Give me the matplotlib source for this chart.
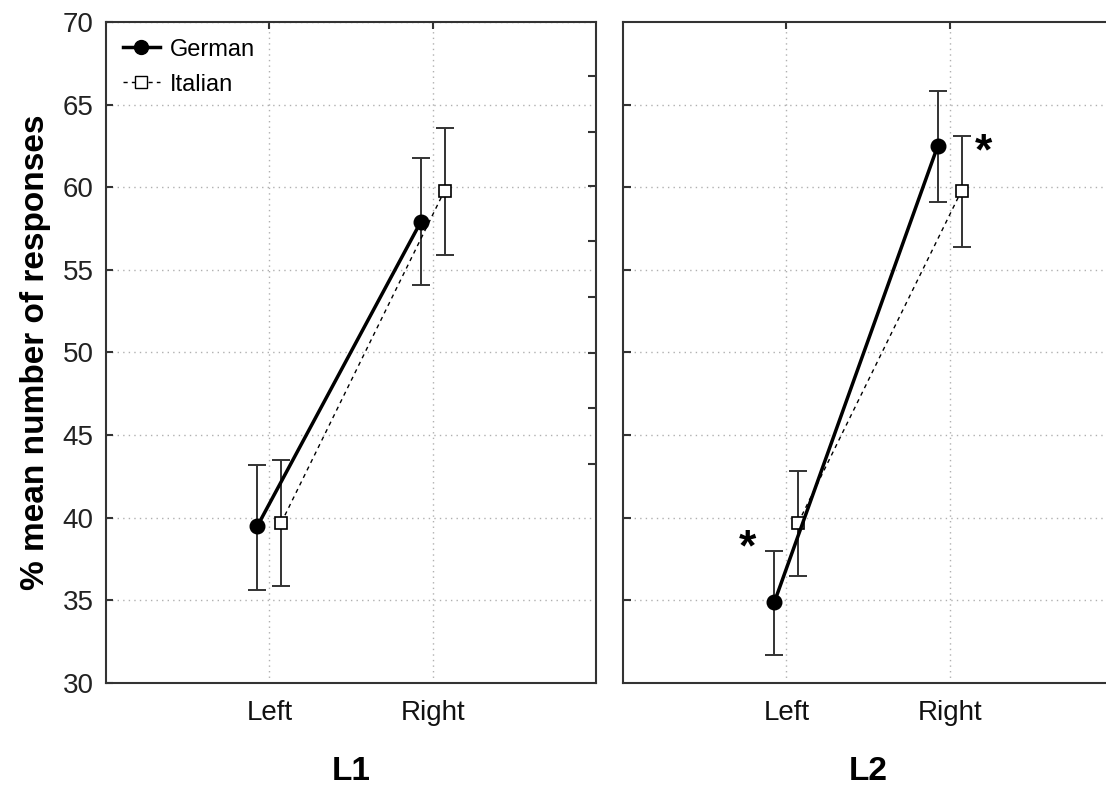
import matplotlib
matplotlib.use('Agg')
import matplotlib.pyplot as plt
from matplotlib.lines import Line2D

plt.rcParams['font.family'] = ['Liberation Sans', 'DejaVu Sans']

categories = ['Left', 'Right']
panels = ['L1', 'L2']

german_L1 = [39.5, 57.9]
german_L1_lo = [35.6, 54.1]
german_L1_hi = [43.2, 61.8]
italian_L1 = [39.7, 59.8]
italian_L1_lo = [35.9, 55.9]
italian_L1_hi = [43.5, 63.6]

german_L2 = [34.9, 62.5]
german_L2_lo = [31.7, 59.1]
german_L2_hi = [38.0, 65.8]
italian_L2 = [39.7, 59.8]
italian_L2_lo = [36.5, 56.4]
italian_L2_hi = [42.8, 63.1]

yticks = [30, 35, 40, 45, 50, 55, 60, 65, 70]
right_ticks_L1 = [66.75, 63.36, 60.09, 56.75, 53.36, 49.97, 46.66, 43.27]

fig = plt.figure(figsize=(11.06, 7.90), dpi=100)
ax1 = fig.add_axes([106/1106, 107/790, 490/1106, 661/790])
ax2 = fig.add_axes([623/1106, 107/790, 490/1106, 661/790])

spine_col = '#333333'
off = 0.073
x = [0, 1]

data = {
    'L1': (german_L1, german_L1_lo, german_L1_hi, italian_L1, italian_L1_lo, italian_L1_hi),
    'L2': (german_L2, german_L2_lo, german_L2_hi, italian_L2, italian_L2_lo, italian_L2_hi),
}

for ax, panel in zip([ax1, ax2], panels):
    g, glo, ghi, it, ilo, ihi = data[panel]
    xg = [v - off for v in x]
    xi = [v + off for v in x]
    ax.set_xlim(-1, 2)
    ax.set_ylim(30, 70)
    ax.set_yticks(yticks)
    ax.set_xticks(x)
    ax.set_xticklabels(categories, fontsize=20)
    ax.grid(True, linestyle=(0, (1, 3)), color='#b0b0b0', linewidth=1.0)
    ax.set_axisbelow(True)
    ax.errorbar(xg, g, yerr=[[m - l for m, l in zip(g, glo)], [h - m for m, h in zip(g, ghi)]],
                fmt='none', ecolor='#333333', elinewidth=1.4, capsize=6.5, capthick=1.4, zorder=2)
    ax.errorbar(xi, it, yerr=[[m - l for m, l in zip(it, ilo)], [h - m for m, h in zip(it, ihi)]],
                fmt='none', ecolor='#333333', elinewidth=1.4, capsize=6.5, capthick=1.4, zorder=2)
    ax.plot(xi, it, linestyle=(0, (3, 3)), color='black', linewidth=1.0,
            marker='s', markersize=9, markerfacecolor='white', markeredgecolor='black',
            markeredgewidth=1.2, zorder=3)
    ax.plot(xg, g, linestyle='-', color='black', linewidth=2.5,
            marker='o', markersize=10.5, markerfacecolor='black', markeredgecolor='black', zorder=4)
    ax.set_xlabel(panel, fontsize=24, fontweight='bold', labelpad=22)
    for s in ax.spines.values():
        s.set_color(spine_col)
        s.set_linewidth(1.5)
    ax.tick_params(axis='x', which='both', bottom=False, top=True, direction='in', length=5,
                   width=1.5, color=spine_col, labelbottom=True, pad=12, labelcolor='#111111')

# left panel y axis
ax1.tick_params(axis='y', left=True, right=False, direction='in', length=5, width=1.5,
                color=spine_col, labelsize=20, pad=9, labelcolor='#222222')
ax1.set_ylabel('% mean number of responses', fontsize=24, fontweight='bold', labelpad=8)
ax1t = ax1.twinx()
ax1t.set_ylim(30, 70)
ax1t.set_yticks(right_ticks_L1)
ax1t.tick_params(axis='y', direction='in', length=6, width=1.5, color=spine_col, labelright=False)
for s in ax1t.spines.values():
    s.set_visible(False)

# right panel
ax2.spines['right'].set_visible(False)
ax2.tick_params(axis='y', left=True, right=False, direction='in', length=6, width=1.5,
                color=spine_col, labelleft=False)
ax2.set_yticks(yticks[1:-1])
ax2.set_ylim(30, 70)

# asterisks
ax2.text(-0.24, 38.1, '*', fontsize=32, fontweight='bold', ha='center', va='center')
ax2.text(1.21, 62.1, '*', fontsize=32, fontweight='bold', ha='center', va='center')

# legend
handles = [
    Line2D([], [], color='black', linewidth=2.5, marker='o', markersize=10, markerfacecolor='black'),
    Line2D([], [], color='black', linewidth=1.0, linestyle=(0, (3, 3)), marker='s', markersize=9,
           markerfacecolor='white', markeredgecolor='black'),
]
ax1.legend(handles, ['German', 'Italian'], loc='upper left', frameon=False, fontsize=17,
           handlelength=1.6, handletextpad=0.4, borderaxespad=0.3, labelspacing=0.55)

fig.savefig('out.png', dpi=100)
